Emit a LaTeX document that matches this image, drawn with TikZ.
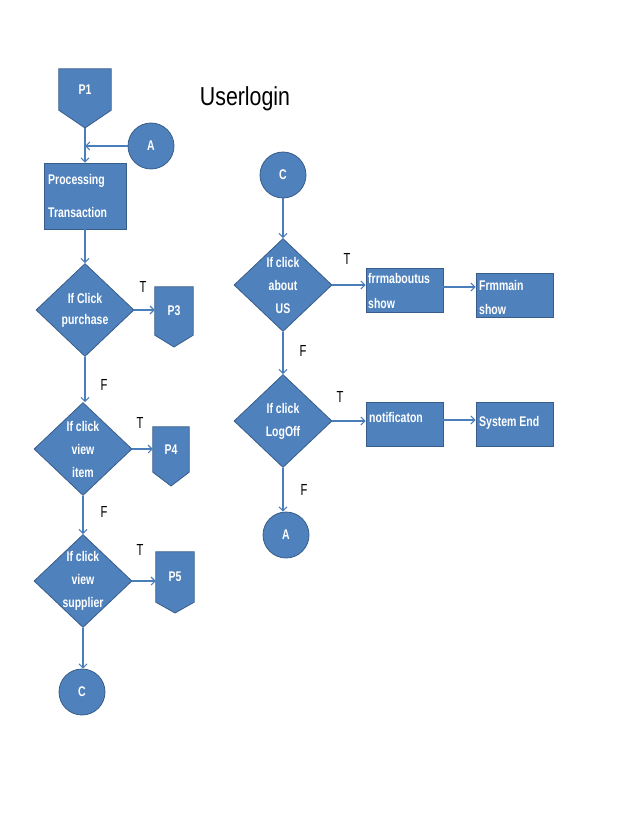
\documentclass[tikz,border=0pt]{standalone}
\usepackage{fontspec}
\setmainfont{Liberation Sans}
\newfontfamily\narrowfont{Liberation Sans}[FakeStretch=0.75]
\newfontfamily\titlefont{Liberation Sans}[FakeStretch=0.82]
\newfontfamily\tffont{Liberation Sans}[FakeStretch=0.7]
\usetikzlibrary{shapes.geometric,arrows.meta,backgrounds,calc}
\definecolor{boxfill}{HTML}{4F81BD}
\definecolor{boxline}{HTML}{385D8A}
\definecolor{arrowc}{HTML}{4A7EBB}
\begin{document}
\begin{tikzpicture}[x=1pt,y=-1pt,
 blockfill/.style={fill=boxfill,draw=boxline,line width=0.8pt},
 dia/.style={blockfill,shape=diamond,inner sep=0pt,minimum width=98pt,minimum height=93pt},
 rbox/.style={blockfill,rectangle,inner sep=0pt,minimum width=77pt,minimum height=44pt},
 conn/.style={blockfill,circle,inner sep=0pt,minimum size=46pt,text=white,font=\narrowfont\bfseries\fontsize{14}{16}\selectfont},
 wtext/.style={text=white,font=\narrowfont\bfseries\fontsize{14}{23}\selectfont,inner sep=0pt,align=center},
 ltext/.style={wtext,align=left,anchor=west},
 tf/.style={font=\tffont\fontsize{16}{18}\selectfont,text=black,inner sep=0pt},
 arr/.style={draw=arrowc,line width=1.1pt,-{Straight Barb[length=4pt,width=8pt]}},
 offpage/.style={blockfill},
]
\useasboundingbox (0,0) rectangle (638,826);

% title
\node[font=\titlefont\fontsize{26}{30}\selectfont,inner sep=0pt] (title) at (245,99) {Userlogin};

% ---------- left column ----------
\node[wtext,minimum width=52pt,minimum height=41pt] (p1) at (85,89.5) {P1};
\coordinate (p1tip) at (85,128);
\node[conn] (a1) at (151,146) {A};
\coordinate (j1) at (85,146);
\node[rbox,minimum width=82pt,minimum height=66pt] (proc) at (85,196) {};
\node[ltext,text width=75pt] (proct) at (48,196) {Processing\\[10pt]Transaction};

\node[dia] (d1) at (85,310) {};
\node[wtext,font=\narrowfont\bfseries\fontsize{14}{21}\selectfont] (d1t) at (85,310) {If Click\\purchase};
\node[wtext,minimum width=38pt,minimum height=48pt] (p3) at (174,311) {P3};
\coordinate (p3tip) at (174,347);

\node[dia] (d2) at (83,449) {};
\node[wtext] (d2t) at (83,449) {If click\\view\\item};
\node[wtext,minimum width=36pt,minimum height=45pt] (p4) at (171,449.5) {P4};
\coordinate (p4tip) at (171,486);

\node[dia] (d3) at (83,581) {};
\node[wtext] (d3t) at (83,581) {If click\\view\\supplier};
\node[wtext,minimum width=38pt,minimum height=50pt] (p5) at (175,577) {P5};
\coordinate (p5tip) at (175,613);

\node[conn] (c1) at (82,692) {C};

% ---------- right column ----------
\node[conn] (c2) at (283,175) {C};
\node[dia] (d4) at (283,285) {};
\node[wtext] (d4t) at (283,285) {If click\\about\\US};
\node[rbox] (fa) at (404.5,290) {};
\node[ltext,font=\narrowfont\bfseries\fontsize{14}{25}\selectfont] (fat) at (368,290.5) {frrmaboutus\\show};
\node[rbox] (fm) at (514.5,295) {};
\node[ltext,font=\narrowfont\bfseries\fontsize{14}{24}\selectfont] (fmt) at (479,297) {Frmmain\\show};

\node[dia] (d5) at (283,421) {};
\node[wtext] (d5t) at (283,421) {If click\\LogOff};
\node[rbox] (nt) at (404.5,424) {};
\node[ltext] (ntt) at (369,417) {notificaton};
\node[rbox] (se) at (514.5,424) {};
\node[ltext] (set) at (479,423) {System End};

\node[conn] (a2) at (286,535) {A};

% off-page connector outlines
\begin{scope}[on background layer]
\path[offpage] (p1.north west) -- (p1.north east) -- (p1.south east) -- (p1tip) -- (p1.south west) -- cycle;
\path[offpage] (p3.north west) -- (p3.north east) -- (p3.south east) -- (p3tip) -- (p3.south west) -- cycle;
\path[offpage] (p4.north west) -- (p4.north east) -- (p4.south east) -- (p4tip) -- (p4.south west) -- cycle;
\path[offpage] (p5.north west) -- (p5.north east) -- (p5.south east) -- (p5tip) -- (p5.south west) -- cycle;
\end{scope}

% T/F labels
\node[tf] (t1) at (143,287) {T};
\node[tf] (f1) at (104,385) {F};
\node[tf] (t2) at (140,423) {T};
\node[tf] (f2) at (104,512) {F};
\node[tf] (t3) at (140,550) {T};
\node[tf] (t4) at (347,259) {T};
\node[tf] (f4) at (303,351) {F};
\node[tf] (t5) at (340,397) {T};
\node[tf] (f5) at (304,490) {F};

% connectors
\draw[arr] (p1tip) -- (proc.north);
\draw[arr] (a1.west) -- (j1);
\draw[arr] (proc.south) -- (d1.north);
\draw[arr] (d1.east) -- (p3.west |- d1.east);
\draw[arr] (d1.south) -- (d2.north -| d1.south);
\draw[arr] (d2.east) -- (p4.west |- d2.east);
\draw[arr] (d2.south) -- (d3.north);
\draw[arr] (d3.east) -- (p5.west |- d3.east);
\draw[arr] (d3.south) -- (c1.north -| d3.south);

\draw[arr] (c2.south) -- (d4.north);
\draw[arr] (d4.east) -- (fa.west |- d4.east);
\draw[arr] (fa.east |- 0,287) -- (fm.west |- 0,287);
\draw[arr] (d4.south) -- (d5.north);
\draw[arr] (d5.east) -- (nt.west |- d5.east);
\draw[arr] (nt.east |- 0,420) -- (se.west |- 0,420);
\draw[arr] (d5.south) -- (a2.north -| d5.south);
\end{tikzpicture}
\end{document}
